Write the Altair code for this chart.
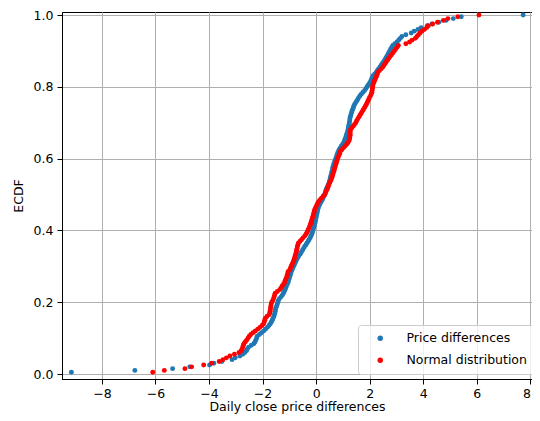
import altair as alt
import pandas as pd

# ECDF sample values (sorted), 200 per series
price_diff = [
    -9.14, -6.77, -5.36, -4.72, -3.98, -3.82, -3.52, -3.14, -3.02, -2.85,
    -2.74, -2.66, -2.60, -2.57, -2.52, -2.42, -2.32, -2.28, -2.25, -2.22,
    -2.20, -2.12, -2.04, -1.96, -1.89, -1.82, -1.76, -1.71, -1.67, -1.64,
    -1.61, -1.58, -1.56, -1.54, -1.53, -1.52, -1.50, -1.47, -1.45, -1.43,
    -1.41, -1.37, -1.31, -1.26, -1.22, -1.19, -1.16, -1.13, -1.11, -1.08,
    -1.05, -1.03, -1.01, -0.99, -0.97, -0.95, -0.93, -0.90, -0.87, -0.84,
    -0.81, -0.78, -0.75, -0.72, -0.68, -0.64, -0.59, -0.55, -0.51, -0.47,
    -0.43, -0.38, -0.34, -0.30, -0.26, -0.22, -0.19, -0.16, -0.14, -0.12,
    -0.10, -0.08, -0.06, -0.05, -0.03, -0.02, 0.00, 0.01, 0.02, 0.04,
    0.05, 0.07, 0.09, 0.12, 0.15, 0.19, 0.23, 0.26, 0.29, 0.32,
    0.34, 0.36, 0.38, 0.41, 0.44, 0.47, 0.49, 0.51, 0.53, 0.54,
    0.56, 0.58, 0.59, 0.61, 0.62, 0.64, 0.66, 0.68, 0.71, 0.73,
    0.76, 0.78, 0.80, 0.83, 0.86, 0.90, 0.94, 0.99, 1.03, 1.06,
    1.08, 1.11, 1.13, 1.15, 1.17, 1.19, 1.20, 1.21, 1.23, 1.24,
    1.25, 1.26, 1.27, 1.29, 1.31, 1.33, 1.35, 1.38, 1.40, 1.43,
    1.47, 1.51, 1.55, 1.59, 1.64, 1.69, 1.75, 1.81, 1.86, 1.90,
    1.95, 1.99, 2.03, 2.06, 2.09, 2.12, 2.18, 2.24, 2.28, 2.33,
    2.38, 2.43, 2.47, 2.52, 2.56, 2.60, 2.64, 2.68, 2.71, 2.75,
    2.78, 2.82, 2.86, 2.94, 3.02, 3.08, 3.14, 3.20, 3.35, 3.55,
    3.66, 3.80, 3.92, 4.15, 4.33, 4.58, 4.85, 5.12, 5.42, 7.73,
]

normal_dist = [
    -6.10, -5.67, -4.90, -4.65, -4.20, -3.90, -3.62, -3.48, -3.35, -3.22,
    -3.05, -2.88, -2.80, -2.76, -2.74, -2.72, -2.69, -2.64, -2.59, -2.54,
    -2.50, -2.44, -2.36, -2.27, -2.18, -2.10, -2.02, -1.96, -1.94, -1.92,
    -1.90, -1.84, -1.76, -1.73, -1.72, -1.71, -1.70, -1.69, -1.68, -1.66,
    -1.62, -1.59, -1.57, -1.55, -1.53, -1.45, -1.36, -1.31, -1.27, -1.22,
    -1.18, -1.16, -1.13, -1.10, -1.08, -1.06, -1.05, -0.99, -0.96, -0.93,
    -0.90, -0.87, -0.84, -0.82, -0.80, -0.78, -0.76, -0.74, -0.73, -0.71,
    -0.70, -0.68, -0.66, -0.60, -0.54, -0.48, -0.42, -0.37, -0.34, -0.31,
    -0.28, -0.25, -0.22, -0.20, -0.18, -0.16, -0.14, -0.12, -0.10, -0.08,
    -0.07, -0.04, -0.01, 0.02, 0.05, 0.09, 0.14, 0.20, 0.26, 0.32,
    0.35, 0.38, 0.41, 0.44, 0.46, 0.49, 0.52, 0.55, 0.58, 0.60,
    0.62, 0.64, 0.66, 0.68, 0.70, 0.72, 0.74, 0.76, 0.78, 0.80,
    0.83, 0.86, 0.88, 0.90, 0.96, 1.02, 1.08, 1.14, 1.19, 1.23,
    1.25, 1.26, 1.27, 1.27, 1.27, 1.28, 1.33, 1.38, 1.43, 1.48,
    1.51, 1.55, 1.59, 1.63, 1.67, 1.71, 1.75, 1.79, 1.83, 1.87,
    1.90, 1.93, 1.96, 1.99, 2.03, 2.06, 2.08, 2.09, 2.10, 2.11,
    2.12, 2.14, 2.17, 2.20, 2.23, 2.26, 2.28, 2.30, 2.36, 2.43,
    2.49, 2.53, 2.58, 2.62, 2.67, 2.72, 2.77, 2.82, 2.87, 2.92,
    2.97, 3.02, 3.07, 3.35, 3.49, 3.58, 3.70, 3.76, 3.82, 3.88,
    3.95, 4.04, 4.13, 4.19, 4.35, 4.53, 4.75, 4.92, 5.29, 6.08,
]

series_names = ["Price differences", "Normal distribution"]
series_colors = ["#1f77b4", "#ff0000"]
x_ticks = [-8, -6, -4, -2, 0, 2, 4, 6, 8]
y_ticks = [0.0, 0.2, 0.4, 0.6, 0.8, 1.0]

df = pd.DataFrame({
    "value": price_diff + normal_dist,
    "series": [series_names[0]] * len(price_diff) + [series_names[1]] * len(normal_dist),
    "layer": [0] * len(price_diff) + [1] * len(normal_dist),
})

font = "DejaVu Sans"

chart = alt.Chart(df).transform_window(
    rn="row_number()", sort=[alt.SortField("value")], groupby=["series"]
).transform_joinaggregate(
    n="count()", groupby=["series"]
).transform_calculate(
    ecdf="datum.rn / datum.n"
).mark_circle(size=24, opacity=1).encode(
    x=alt.X("value:Q",
            scale=alt.Scale(domain=[-9.49, 8.06], nice=False, zero=False),
            axis=alt.Axis(values=x_ticks, format="d", labelFlush=6,
                          title="Daily close price differences")),
    y=alt.Y("ecdf:Q",
            scale=alt.Scale(domain=[-0.0139, 1.0084], nice=False, zero=False),
            axis=alt.Axis(values=y_ticks, format=".1f", title="ECDF")),
    color=alt.Color("series:N",
                    scale=alt.Scale(domain=series_names, range=series_colors),
                    legend=alt.Legend(orient="none", legendX=296, legendY=313, title=None,
                                      fillColor="rgba(255,255,255,0.8)", strokeColor="#cccccc",
                                      cornerRadius=3, padding=7, symbolType="circle",
                                      symbolSize=30, symbolStrokeWidth=0, symbolOpacity=1,
                                      symbolOffset=9, labelOffset=20, rowPadding=9,
                                      labelFontSize=12.5, labelFont=font, labelColor="black")),
    order=alt.Order("layer:Q"),
).properties(
    width=470, height=367,
    autosize=alt.AutoSizeParams(type="none"),
    padding={"left": 54, "top": 4, "right": 0, "bottom": 36},
).configure_view(
    stroke="black", strokeWidth=1
).configure_axis(
    labelFont=font, titleFont=font, labelFontSize=12.5, titleFontSize=12.5,
    titleFontWeight="normal", labelColor="black", titleColor="black",
    domainColor="black", domainWidth=1, tickColor="black", tickSize=5, tickWidth=1,
    gridColor="#b0b0b0", gridWidth=1, labelPadding=4,
).configure_axisX(
    labelPadding=3, titlePadding=1
).configure_axisY(
    titlePadding=8
)

chart.save("out.html", embed_options={"renderer": "svg", "actions": False})
